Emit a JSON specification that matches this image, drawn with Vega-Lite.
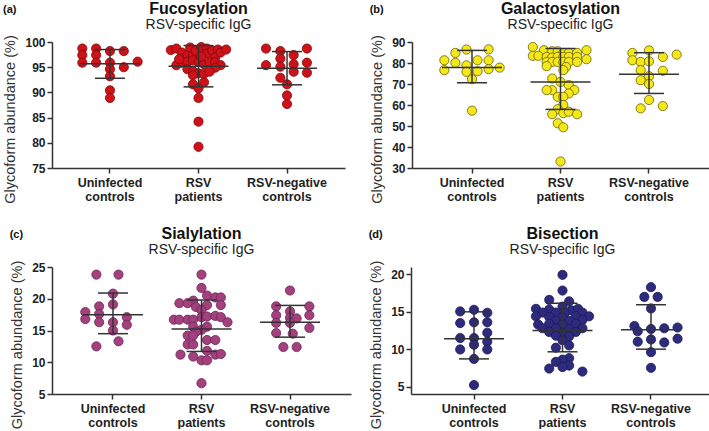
{
  "$schema": "https://vega.github.io/schema/vega-lite/v6.json",
  "padding": {"left": 2, "right": 0, "top": 0, "bottom": 0},
  "background": "white",
  "config": {
    "font": "Liberation Sans",
    "view": {"stroke": null},
    "title": {"fontSize": 16, "fontWeight": "bold", "color": "#111", "subtitleFontSize": 14, "subtitleColor": "#222", "subtitlePadding": 1, "offset": 3, "anchor": "middle"},
    "axis": {"grid": false, "domainColor": "#333", "domainWidth": 1.5, "tickColor": "#333", "tickWidth": 1.5, "tickSize": 5, "labelFontWeight": "bold", "labelColor": "#222", "titleFontWeight": "normal", "titleColor": "#333"},
    "axisY": {"labelFontSize": 12, "labelPadding": 2, "titleFontSize": 14.5, "titlePadding": 7, "labelOverlap": false},
    "axisX": {"labelFontSize": 12.5, "labelAngle": 0, "labelPadding": 3, "labelLineHeight": 14.5, "labelOverlap": false}
  },
  "datasets": {
    "pts": [
      {"p":"a","g":"Uninfected controls","v":98.7,"c":-5},{"p":"a","g":"Uninfected controls","v":97.4,"c":-5},{"p":"a","g":"Uninfected controls","v":95.9,"c":-5},
      {"p":"a","g":"Uninfected controls","v":98.7,"c":-2.5},{"p":"a","g":"Uninfected controls","v":97.4,"c":-2.5},{"p":"a","g":"Uninfected controls","v":95.9,"c":-2.5},
      {"p":"a","g":"Uninfected controls","v":98.2,"c":0},{"p":"a","g":"Uninfected controls","v":95.9,"c":0},{"p":"a","g":"Uninfected controls","v":94.6,"c":0},
      {"p":"a","g":"Uninfected controls","v":93.2,"c":0},{"p":"a","g":"Uninfected controls","v":90.4,"c":0},{"p":"a","g":"Uninfected controls","v":88.9,"c":0},
      {"p":"a","g":"Uninfected controls","v":98.2,"c":2.5},{"p":"a","g":"Uninfected controls","v":95.0,"c":2.5},{"p":"a","g":"Uninfected controls","v":96.1,"c":5},

      {"p":"a","g":"RSV patients","v":98.4,"c":-5},{"p":"a","g":"RSV patients","v":98.7,"c":-4},{"p":"a","g":"RSV patients","v":97.9,"c":-3},
      {"p":"a","g":"RSV patients","v":97.4,"c":-2},{"p":"a","g":"RSV patients","v":98.9,"c":-1.5},{"p":"a","g":"RSV patients","v":97.4,"c":-1},
      {"p":"a","g":"RSV patients","v":98.3,"c":-0.5},{"p":"a","g":"RSV patients","v":99.0,"c":0.5},{"p":"a","g":"RSV patients","v":98.7,"c":1.5},
      {"p":"a","g":"RSV patients","v":97.7,"c":1.5},{"p":"a","g":"RSV patients","v":98.3,"c":2.5},{"p":"a","g":"RSV patients","v":98.5,"c":3.5},
      {"p":"a","g":"RSV patients","v":96.9,"c":3},{"p":"a","g":"RSV patients","v":97.9,"c":4},{"p":"a","g":"RSV patients","v":98.5,"c":5},
      {"p":"a","g":"RSV patients","v":95.4,"c":-4},{"p":"a","g":"RSV patients","v":95.9,"c":-3},{"p":"a","g":"RSV patients","v":96.1,"c":-2},
      {"p":"a","g":"RSV patients","v":96.4,"c":-1},{"p":"a","g":"RSV patients","v":96.0,"c":0},{"p":"a","g":"RSV patients","v":95.6,"c":1},
      {"p":"a","g":"RSV patients","v":96.0,"c":2},{"p":"a","g":"RSV patients","v":96.0,"c":3},{"p":"a","g":"RSV patients","v":95.4,"c":4},
      {"p":"a","g":"RSV patients","v":96.6,"c":-3.5},{"p":"a","g":"RSV patients","v":97.1,"c":0.5},{"p":"a","g":"RSV patients","v":94.9,"c":3},
      {"p":"a","g":"RSV patients","v":94.6,"c":-2},{"p":"a","g":"RSV patients","v":94.2,"c":-1},{"p":"a","g":"RSV patients","v":93.8,"c":0},
      {"p":"a","g":"RSV patients","v":93.7,"c":1},{"p":"a","g":"RSV patients","v":94.1,"c":2},{"p":"a","g":"RSV patients","v":93.4,"c":-1},
      {"p":"a","g":"RSV patients","v":91.6,"c":-1},{"p":"a","g":"RSV patients","v":92.0,"c":1},{"p":"a","g":"RSV patients","v":90.8,"c":0},
      {"p":"a","g":"RSV patients","v":88.9,"c":0},{"p":"a","g":"RSV patients","v":84.2,"c":0},{"p":"a","g":"RSV patients","v":79.2,"c":0},

      {"p":"a","g":"RSV-negative controls","v":98.7,"c":-3.8},{"p":"a","g":"RSV-negative controls","v":98.2,"c":-1.2},{"p":"a","g":"RSV-negative controls","v":98.7,"c":3.6},
      {"p":"a","g":"RSV-negative controls","v":96.7,"c":-1.2},{"p":"a","g":"RSV-negative controls","v":97.4,"c":1.2},{"p":"a","g":"RSV-negative controls","v":95.4,"c":-3.8},
      {"p":"a","g":"RSV-negative controls","v":95.1,"c":-1.2},{"p":"a","g":"RSV-negative controls","v":95.6,"c":1.2},{"p":"a","g":"RSV-negative controls","v":95.9,"c":3.6},
      {"p":"a","g":"RSV-negative controls","v":92.9,"c":-1.2},{"p":"a","g":"RSV-negative controls","v":94.1,"c":1.2},{"p":"a","g":"RSV-negative controls","v":93.9,"c":3.6},
      {"p":"a","g":"RSV-negative controls","v":91.6,"c":0},{"p":"a","g":"RSV-negative controls","v":89.4,"c":0},{"p":"a","g":"RSV-negative controls","v":87.7,"c":0},

      {"p":"b","g":"Uninfected controls","v":81.3,"c":-5},{"p":"b","g":"Uninfected controls","v":76.6,"c":-5},{"p":"b","g":"Uninfected controls","v":84.8,"c":-3},
      {"p":"b","g":"Uninfected controls","v":80.1,"c":-3},{"p":"b","g":"Uninfected controls","v":86.4,"c":-1},{"p":"b","g":"Uninfected controls","v":78.9,"c":-1},
      {"p":"b","g":"Uninfected controls","v":75.8,"c":-1},{"p":"b","g":"Uninfected controls","v":72.3,"c":0},{"p":"b","g":"Uninfected controls","v":81.3,"c":1},
      {"p":"b","g":"Uninfected controls","v":76.1,"c":1},{"p":"b","g":"Uninfected controls","v":86.5,"c":3},{"p":"b","g":"Uninfected controls","v":81.3,"c":3},
      {"p":"b","g":"Uninfected controls","v":77.1,"c":3},{"p":"b","g":"Uninfected controls","v":77.8,"c":5},{"p":"b","g":"Uninfected controls","v":57.3,"c":0},

      {"p":"b","g":"RSV patients","v":87.6,"c":-5},{"p":"b","g":"RSV patients","v":86.1,"c":-3},{"p":"b","g":"RSV patients","v":85.6,"c":-1.5},
      {"p":"b","g":"RSV patients","v":85.6,"c":-0.5},{"p":"b","g":"RSV patients","v":84.8,"c":0.5},{"p":"b","g":"RSV patients","v":84.8,"c":1.5},
      {"p":"b","g":"RSV patients","v":84.8,"c":3},{"p":"b","g":"RSV patients","v":86.1,"c":4.7},{"p":"b","g":"RSV patients","v":83.4,"c":-5},
      {"p":"b","g":"RSV patients","v":83.4,"c":-4},{"p":"b","g":"RSV patients","v":82.9,"c":-2.5},{"p":"b","g":"RSV patients","v":82.6,"c":-1.5},
      {"p":"b","g":"RSV patients","v":82.9,"c":-0.5},{"p":"b","g":"RSV patients","v":82.9,"c":0.5},{"p":"b","g":"RSV patients","v":82.9,"c":1.5},
      {"p":"b","g":"RSV patients","v":82.9,"c":3},{"p":"b","g":"RSV patients","v":81.8,"c":4.7},{"p":"b","g":"RSV patients","v":80.5,"c":-2.5},
      {"p":"b","g":"RSV patients","v":80.5,"c":-1.5},{"p":"b","g":"RSV patients","v":80.5,"c":-0.5},{"p":"b","g":"RSV patients","v":80.5,"c":0.5},
      {"p":"b","g":"RSV patients","v":80.5,"c":1.5},{"p":"b","g":"RSV patients","v":80.5,"c":3},{"p":"b","g":"RSV patients","v":78.5,"c":-2.5},
      {"p":"b","g":"RSV patients","v":78.1,"c":1},{"p":"b","g":"RSV patients","v":76.6,"c":0.5},{"p":"b","g":"RSV patients","v":72.6,"c":-1.5},
      {"p":"b","g":"RSV patients","v":71.0,"c":0},{"p":"b","g":"RSV patients","v":69.5,"c":1.5},{"p":"b","g":"RSV patients","v":67.1,"c":-1.5},
      {"p":"b","g":"RSV patients","v":67.1,"c":-2.5},{"p":"b","g":"RSV patients","v":67.1,"c":2.5},{"p":"b","g":"RSV patients","v":65.5,"c":1.5},
      {"p":"b","g":"RSV patients","v":63.9,"c":-0.5},{"p":"b","g":"RSV patients","v":63.9,"c":0.5},{"p":"b","g":"RSV patients","v":60.0,"c":0.5},
      {"p":"b","g":"RSV patients","v":58.0,"c":-0.5},{"p":"b","g":"RSV patients","v":55.6,"c":-1.5},{"p":"b","g":"RSV patients","v":56.1,"c":0.5},
      {"p":"b","g":"RSV patients","v":56.8,"c":1.5},{"p":"b","g":"RSV patients","v":55.6,"c":3},{"p":"b","g":"RSV patients","v":51.3,"c":-0.5},
      {"p":"b","g":"RSV patients","v":49.4,"c":0.5},{"p":"b","g":"RSV patients","v":33.1,"c":0},

      {"p":"b","g":"RSV-negative controls","v":84.8,"c":-3},{"p":"b","g":"RSV-negative controls","v":81.3,"c":-3},{"p":"b","g":"RSV-negative controls","v":80.5,"c":-1.5},
      {"p":"b","g":"RSV-negative controls","v":76.6,"c":-1.5},{"p":"b","g":"RSV-negative controls","v":71.8,"c":-1.5},{"p":"b","g":"RSV-negative controls","v":58.4,"c":-1.5},
      {"p":"b","g":"RSV-negative controls","v":86.0,"c":0},{"p":"b","g":"RSV-negative controls","v":80.8,"c":0},{"p":"b","g":"RSV-negative controls","v":73.7,"c":0},
      {"p":"b","g":"RSV-negative controls","v":70.0,"c":0},{"p":"b","g":"RSV-negative controls","v":62.4,"c":0},{"p":"b","g":"RSV-negative controls","v":82.9,"c":2.5},
      {"p":"b","g":"RSV-negative controls","v":76.3,"c":2.5},{"p":"b","g":"RSV-negative controls","v":59.5,"c":2.5},{"p":"b","g":"RSV-negative controls","v":84.0,"c":5},

      {"p":"c","g":"Uninfected controls","v":23.8,"c":-3},{"p":"c","g":"Uninfected controls","v":23.8,"c":1},{"p":"c","g":"Uninfected controls","v":20.8,"c":0},
      {"p":"c","g":"Uninfected controls","v":17.9,"c":-5},{"p":"c","g":"Uninfected controls","v":16.8,"c":-5},{"p":"c","g":"Uninfected controls","v":18.8,"c":-2.5},
      {"p":"c","g":"Uninfected controls","v":17.6,"c":-2.5},{"p":"c","g":"Uninfected controls","v":16.3,"c":-2.5},{"p":"c","g":"Uninfected controls","v":19.1,"c":0},
      {"p":"c","g":"Uninfected controls","v":16.3,"c":0},{"p":"c","g":"Uninfected controls","v":15.0,"c":0},{"p":"c","g":"Uninfected controls","v":17.1,"c":2.5},
      {"p":"c","g":"Uninfected controls","v":15.9,"c":2.5},{"p":"c","g":"Uninfected controls","v":12.5,"c":-3},{"p":"c","g":"Uninfected controls","v":13.3,"c":1},

      {"p":"c","g":"RSV patients","v":23.8,"c":0},{"p":"c","g":"RSV patients","v":21.7,"c":0},{"p":"c","g":"RSV patients","v":20.5,"c":1},
      {"p":"c","g":"RSV patients","v":20.2,"c":2.5},{"p":"c","g":"RSV patients","v":20.2,"c":3.5},{"p":"c","g":"RSV patients","v":19.7,"c":-1.5},
      {"p":"c","g":"RSV patients","v":19.3,"c":-4},{"p":"c","g":"RSV patients","v":19.3,"c":-2.5},{"p":"c","g":"RSV patients","v":19.0,"c":1},
      {"p":"c","g":"RSV patients","v":19.0,"c":3.5},{"p":"c","g":"RSV patients","v":18.7,"c":-1},{"p":"c","g":"RSV patients","v":18.2,"c":0},
      {"p":"c","g":"RSV patients","v":17.1,"c":0},{"p":"c","g":"RSV patients","v":17.2,"c":1},{"p":"c","g":"RSV patients","v":17.3,"c":2.5},
      {"p":"c","g":"RSV patients","v":17.1,"c":3.5},{"p":"c","g":"RSV patients","v":16.7,"c":-5},{"p":"c","g":"RSV patients","v":16.7,"c":-4},
      {"p":"c","g":"RSV patients","v":16.7,"c":-2.5},{"p":"c","g":"RSV patients","v":16.7,"c":-1.5},{"p":"c","g":"RSV patients","v":16.3,"c":4.7},
      {"p":"c","g":"RSV patients","v":15.6,"c":-1.5},{"p":"c","g":"RSV patients","v":15.6,"c":1},{"p":"c","g":"RSV patients","v":15.1,"c":0},
      {"p":"c","g":"RSV patients","v":14.8,"c":-1},{"p":"c","g":"RSV patients","v":14.2,"c":-2.5},{"p":"c","g":"RSV patients","v":14.2,"c":-1.5},
      {"p":"c","g":"RSV patients","v":13.5,"c":1},{"p":"c","g":"RSV patients","v":13.5,"c":2.5},{"p":"c","g":"RSV patients","v":12.8,"c":-2.5},
      {"p":"c","g":"RSV patients","v":12.8,"c":-1.5},{"p":"c","g":"RSV patients","v":11.8,"c":1},{"p":"c","g":"RSV patients","v":11.2,"c":-3.8},
      {"p":"c","g":"RSV patients","v":11.2,"c":2.5},{"p":"c","g":"RSV patients","v":11.3,"c":3.5},{"p":"c","g":"RSV patients","v":10.9,"c":-1.5},
      {"p":"c","g":"RSV patients","v":10.3,"c":0},{"p":"c","g":"RSV patients","v":10.3,"c":1},{"p":"c","g":"RSV patients","v":6.7,"c":0},

      {"p":"c","g":"RSV-negative controls","v":21.3,"c":0},{"p":"c","g":"RSV-negative controls","v":18.8,"c":-2.5},{"p":"c","g":"RSV-negative controls","v":18.8,"c":3.5},
      {"p":"c","g":"RSV-negative controls","v":18.0,"c":0},{"p":"c","g":"RSV-negative controls","v":17.4,"c":-2.5},{"p":"c","g":"RSV-negative controls","v":17.4,"c":3.5},
      {"p":"c","g":"RSV-negative controls","v":17.0,"c":0},{"p":"c","g":"RSV-negative controls","v":16.9,"c":1.2},{"p":"c","g":"RSV-negative controls","v":16.2,"c":-2.5},
      {"p":"c","g":"RSV-negative controls","v":16.2,"c":0},{"p":"c","g":"RSV-negative controls","v":15.4,"c":3.5},{"p":"c","g":"RSV-negative controls","v":14.6,"c":-2.5},
      {"p":"c","g":"RSV-negative controls","v":14.5,"c":0.5},{"p":"c","g":"RSV-negative controls","v":12.4,"c":-1.2},{"p":"c","g":"RSV-negative controls","v":12.4,"c":1.2},

      {"p":"d","g":"Uninfected controls","v":15.05,"c":-2.5},{"p":"d","g":"Uninfected controls","v":15.27,"c":0},{"p":"d","g":"Uninfected controls","v":14.87,"c":2.4},
      {"p":"d","g":"Uninfected controls","v":13.49,"c":-2.5},{"p":"d","g":"Uninfected controls","v":13.6,"c":0},{"p":"d","g":"Uninfected controls","v":13.6,"c":2.4},
      {"p":"d","g":"Uninfected controls","v":11.49,"c":-2.5},{"p":"d","g":"Uninfected controls","v":11.49,"c":0},{"p":"d","g":"Uninfected controls","v":12.2,"c":2.4},
      {"p":"d","g":"Uninfected controls","v":11.0,"c":2.4},{"p":"d","g":"Uninfected controls","v":9.96,"c":-2.5},{"p":"d","g":"Uninfected controls","v":10.6,"c":0},
      {"p":"d","g":"Uninfected controls","v":9.96,"c":2.4},{"p":"d","g":"Uninfected controls","v":8.7,"c":0},{"p":"d","g":"Uninfected controls","v":5.2,"c":0},

      {"p":"d","g":"RSV patients","v":19.95,"c":0},{"p":"d","g":"RSV patients","v":17.85,"c":0},{"p":"d","g":"RSV patients","v":16.6,"c":-2.4},
      {"p":"d","g":"RSV patients","v":16.4,"c":1.2},{"p":"d","g":"RSV patients","v":15.7,"c":0},
      {"p":"d","g":"RSV patients","v":15.4,"c":-4.8},{"p":"d","g":"RSV patients","v":15.3,"c":-2.4},{"p":"d","g":"RSV patients","v":15.2,"c":1.6},{"p":"d","g":"RSV patients","v":15.4,"c":2.8},
      {"p":"d","g":"RSV patients","v":14.9,"c":-3.6},{"p":"d","g":"RSV patients","v":14.9,"c":-1.2},{"p":"d","g":"RSV patients","v":14.8,"c":0.4},{"p":"d","g":"RSV patients","v":14.9,"c":3.6},
      {"p":"d","g":"RSV patients","v":14.4,"c":-4.8},{"p":"d","g":"RSV patients","v":14.3,"c":-2.4},{"p":"d","g":"RSV patients","v":14.2,"c":0},{"p":"d","g":"RSV patients","v":14.4,"c":2.4},{"p":"d","g":"RSV patients","v":14.4,"c":4.8},
      {"p":"d","g":"RSV patients","v":13.8,"c":-1.2},{"p":"d","g":"RSV patients","v":13.8,"c":1.2},{"p":"d","g":"RSV patients","v":13.9,"c":3.6},
      {"p":"d","g":"RSV patients","v":13.4,"c":-2.4},{"p":"d","g":"RSV patients","v":13.3,"c":0},{"p":"d","g":"RSV patients","v":13.4,"c":2.4},{"p":"d","g":"RSV patients","v":13.3,"c":-4.4},
      {"p":"d","g":"RSV patients","v":12.8,"c":-3.6},{"p":"d","g":"RSV patients","v":12.8,"c":-1.2},{"p":"d","g":"RSV patients","v":12.7,"c":1.2},{"p":"d","g":"RSV patients","v":12.8,"c":3.6},
      {"p":"d","g":"RSV patients","v":12.3,"c":-2.4},{"p":"d","g":"RSV patients","v":12.2,"c":0},{"p":"d","g":"RSV patients","v":12.3,"c":2.4},
      {"p":"d","g":"RSV patients","v":11.8,"c":-1.2},{"p":"d","g":"RSV patients","v":11.7,"c":1.2},{"p":"d","g":"RSV patients","v":11.2,"c":0},
      {"p":"d","g":"RSV patients","v":10.5,"c":1.2},{"p":"d","g":"RSV patients","v":10.2,"c":-1.2},
      {"p":"d","g":"RSV patients","v":8.8,"c":1.2},{"p":"d","g":"RSV patients","v":8.6,"c":0},{"p":"d","g":"RSV patients","v":8.3,"c":-1.2},
      {"p":"d","g":"RSV patients","v":7.8,"c":1.2},{"p":"d","g":"RSV patients","v":7.6,"c":0},{"p":"d","g":"RSV patients","v":7.4,"c":-2.4},{"p":"d","g":"RSV patients","v":7.0,"c":3.6},

      {"p":"d","g":"RSV-negative controls","v":18.3,"c":0},{"p":"d","g":"RSV-negative controls","v":17.0,"c":-1.2},{"p":"d","g":"RSV-negative controls","v":17.0,"c":1.2},
      {"p":"d","g":"RSV-negative controls","v":15.45,"c":0},{"p":"d","g":"RSV-negative controls","v":13.1,"c":-3},{"p":"d","g":"RSV-negative controls","v":12.9,"c":4.8},
      {"p":"d","g":"RSV-negative controls","v":12.4,"c":-2.4},{"p":"d","g":"RSV-negative controls","v":12.7,"c":0},{"p":"d","g":"RSV-negative controls","v":12.8,"c":2.4},
      {"p":"d","g":"RSV-negative controls","v":11.4,"c":4.8},{"p":"d","g":"RSV-negative controls","v":11.0,"c":-2.4},{"p":"d","g":"RSV-negative controls","v":11.3,"c":0},
      {"p":"d","g":"RSV-negative controls","v":10.9,"c":2.4},{"p":"d","g":"RSV-negative controls","v":9.6,"c":0},{"p":"d","g":"RSV-negative controls","v":7.5,"c":0}
    ],
    "sum": [
      {"p":"a","g":"Uninfected controls","mean":95.7,"lo":92.8,"hi":98.5},
      {"p":"a","g":"RSV patients","mean":95.2,"lo":91.1,"hi":99.3},
      {"p":"a","g":"RSV-negative controls","mean":94.8,"lo":91.5,"hi":98.1},
      {"p":"b","g":"Uninfected controls","mean":77.9,"lo":70.6,"hi":86.0},
      {"p":"b","g":"RSV patients","mean":71.0,"lo":57.9,"hi":86.9},
      {"p":"b","g":"RSV-negative controls","mean":74.7,"lo":65.5,"hi":84.9},
      {"p":"c","g":"Uninfected controls","mean":17.5,"lo":14.5,"hi":20.9},
      {"p":"c","g":"RSV patients","mean":15.25,"lo":11.7,"hi":19.8},
      {"p":"c","g":"RSV-negative controls","mean":16.3,"lo":13.95,"hi":18.95},
      {"p":"d","g":"Uninfected controls","mean":11.4,"lo":8.7,"hi":15.0},
      {"p":"d","g":"RSV patients","mean":12.5,"lo":9.65,"hi":16.15},
      {"p":"d","g":"RSV-negative controls","mean":12.6,"lo":10.0,"hi":15.95}
    ]
  },
  "spacing": 22,
  "vconcat": [
    {
      "spacing": 24,
      "hconcat": [
        {
          "title": {"text": "(a)", "anchor": "start", "frame": "bounds", "offset": -14, "fontSize": 11, "fontWeight": "bold"},
          "vconcat": [{
            "width": 293, "height": 126,
            "title": {"text": "Fucosylation", "subtitle": "RSV-specific IgG"},
            "layer": [
              {"data": {"name": "pts"}, "transform": [{"filter": "datum.p === 'a'"}],
               "mark": {"type": "circle", "size": 85, "opacity": 1, "fill": "#cf1219", "stroke": "#7d0a0a", "strokeWidth": 0.8},
               "encoding": {
                 "x": {"field": "g", "type": "nominal", "title": null, "sort": ["Uninfected controls", "RSV patients", "RSV-negative controls"], "scale": {"paddingInner": 0, "paddingOuter": 0.155}, "axis": {"labelExpr": "split(datum.label, ' ')"}},
                 "xOffset": {"field": "c", "type": "quantitative", "scale": {"domain": [-8, 8], "range": [0, 88.5]}},
                 "y": {"field": "v", "type": "quantitative", "title": "Glycoform abundance (%)", "scale": {"domain": [75, 100], "nice": false, "zero": false}, "axis": {"values": [75, 80, 85, 90, 95, 100], "titleY": 77}}
               }},
              {"data": {"name": "sum"}, "transform": [{"filter": "datum.p === 'a'"}],
               "mark": {"type": "rule", "color": "#333", "strokeWidth": 1.5},
               "encoding": {"x": {"field": "g", "type": "nominal", "title": null, "sort": ["Uninfected controls", "RSV patients", "RSV-negative controls"]}, "y": {"field": "lo", "type": "quantitative", "title": "Glycoform abundance (%)", "axis": {"values": [75, 80, 85, 90, 95, 100], "titleY": 77}}, "y2": {"field": "hi"}}},
              {"data": {"name": "sum"}, "transform": [{"filter": "datum.p === 'a'"}],
               "mark": {"type": "tick", "orient": "horizontal", "size": 60, "thickness": 1.5, "color": "#333", "opacity": 1},
               "encoding": {"x": {"field": "g", "type": "nominal", "title": null, "sort": ["Uninfected controls", "RSV patients", "RSV-negative controls"]}, "y": {"field": "mean", "type": "quantitative", "title": "Glycoform abundance (%)", "axis": {"values": [75, 80, 85, 90, 95, 100], "titleY": 77}}}},
              {"data": {"name": "sum"}, "transform": [{"filter": "datum.p === 'a'"}],
               "mark": {"type": "tick", "orient": "horizontal", "size": 30, "thickness": 1.5, "color": "#333", "opacity": 1},
               "encoding": {"x": {"field": "g", "type": "nominal", "title": null, "sort": ["Uninfected controls", "RSV patients", "RSV-negative controls"]}, "y": {"field": "lo", "type": "quantitative", "title": "Glycoform abundance (%)", "axis": {"values": [75, 80, 85, 90, 95, 100], "titleY": 77}}}},
              {"data": {"name": "sum"}, "transform": [{"filter": "datum.p === 'a'"}],
               "mark": {"type": "tick", "orient": "horizontal", "size": 30, "thickness": 1.5, "color": "#333", "opacity": 1},
               "encoding": {"x": {"field": "g", "type": "nominal", "title": null, "sort": ["Uninfected controls", "RSV patients", "RSV-negative controls"]}, "y": {"field": "hi", "type": "quantitative", "title": "Glycoform abundance (%)", "axis": {"values": [75, 80, 85, 90, 95, 100], "titleY": 77}}}}
            ]
          }]
        },
        {
          "title": {"text": "(b)", "anchor": "start", "frame": "bounds", "offset": -14, "fontSize": 11, "fontWeight": "bold"},
          "vconcat": [{
            "width": 297, "height": 126,
            "title": {"text": "Galactosylation", "subtitle": "RSV-specific IgG"},
            "layer": [
              {"data": {"name": "pts"}, "transform": [{"filter": "datum.p === 'b'"}],
               "mark": {"type": "circle", "size": 85, "opacity": 1, "fill": "#f5e81a", "stroke": "#6b5f00", "strokeWidth": 0.8},
               "encoding": {
                 "x": {"field": "g", "type": "nominal", "title": null, "sort": ["Uninfected controls", "RSV patients", "RSV-negative controls"], "scale": {"paddingInner": 0, "paddingOuter": 0.178}, "axis": {"labelExpr": "split(datum.label, ' ')"}},
                 "xOffset": {"field": "c", "type": "quantitative", "scale": {"domain": [-8, 8], "range": [0, 88.5]}},
                 "y": {"field": "v", "type": "quantitative", "title": "Glycoform abundance (%)", "scale": {"domain": [30, 90], "nice": false, "zero": false}, "axis": {"values": [30, 40, 50, 60, 70, 80, 90], "titleY": 77}}
               }},
              {"data": {"name": "sum"}, "transform": [{"filter": "datum.p === 'b'"}],
               "mark": {"type": "rule", "color": "#333", "strokeWidth": 1.5},
               "encoding": {"x": {"field": "g", "type": "nominal", "title": null, "sort": ["Uninfected controls", "RSV patients", "RSV-negative controls"]}, "y": {"field": "lo", "type": "quantitative", "title": "Glycoform abundance (%)", "axis": {"values": [30, 40, 50, 60, 70, 80, 90], "titleY": 77}}, "y2": {"field": "hi"}}},
              {"data": {"name": "sum"}, "transform": [{"filter": "datum.p === 'b'"}],
               "mark": {"type": "tick", "orient": "horizontal", "size": 60, "thickness": 1.5, "color": "#333", "opacity": 1},
               "encoding": {"x": {"field": "g", "type": "nominal", "title": null, "sort": ["Uninfected controls", "RSV patients", "RSV-negative controls"]}, "y": {"field": "mean", "type": "quantitative", "title": "Glycoform abundance (%)", "axis": {"values": [30, 40, 50, 60, 70, 80, 90], "titleY": 77}}}},
              {"data": {"name": "sum"}, "transform": [{"filter": "datum.p === 'b'"}],
               "mark": {"type": "tick", "orient": "horizontal", "size": 30, "thickness": 1.5, "color": "#333", "opacity": 1},
               "encoding": {"x": {"field": "g", "type": "nominal", "title": null, "sort": ["Uninfected controls", "RSV patients", "RSV-negative controls"]}, "y": {"field": "lo", "type": "quantitative", "title": "Glycoform abundance (%)", "axis": {"values": [30, 40, 50, 60, 70, 80, 90], "titleY": 77}}}},
              {"data": {"name": "sum"}, "transform": [{"filter": "datum.p === 'b'"}],
               "mark": {"type": "tick", "orient": "horizontal", "size": 30, "thickness": 1.5, "color": "#333", "opacity": 1},
               "encoding": {"x": {"field": "g", "type": "nominal", "title": null, "sort": ["Uninfected controls", "RSV patients", "RSV-negative controls"]}, "y": {"field": "hi", "type": "quantitative", "title": "Glycoform abundance (%)", "axis": {"values": [30, 40, 50, 60, 70, 80, 90], "titleY": 77}}}}
            ]
          }]
        }
      ]
    },
    {
      "spacing": 17,
      "hconcat": [
        {
          "title": {"text": "(c)", "anchor": "start", "frame": "bounds", "offset": -14, "fontSize": 11, "fontWeight": "bold"},
          "vconcat": [{
            "width": 299, "height": 127,
            "title": {"text": "Sialylation", "subtitle": "RSV-specific IgG"},
            "layer": [
              {"data": {"name": "pts"}, "transform": [{"filter": "datum.p === 'c'"}],
               "mark": {"type": "circle", "size": 85, "opacity": 1, "fill": "#a3417f", "stroke": "#6d2455", "strokeWidth": 0.8},
               "encoding": {
                 "x": {"field": "g", "type": "nominal", "title": null, "sort": ["Uninfected controls", "RSV patients", "RSV-negative controls"], "scale": {"paddingInner": 0, "paddingOuter": 0.189}, "axis": {"labelExpr": "split(datum.label, ' ')"}},
                 "xOffset": {"field": "c", "type": "quantitative", "scale": {"domain": [-8, 8], "range": [0, 88.5]}},
                 "y": {"field": "v", "type": "quantitative", "title": "Glycoform abundance (%)", "scale": {"domain": [5, 25], "nice": false, "zero": false}, "axis": {"values": [5, 10, 15, 20, 25], "titleY": 77.5}}
               }},
              {"data": {"name": "sum"}, "transform": [{"filter": "datum.p === 'c'"}],
               "mark": {"type": "rule", "color": "#333", "strokeWidth": 1.5},
               "encoding": {"x": {"field": "g", "type": "nominal", "title": null, "sort": ["Uninfected controls", "RSV patients", "RSV-negative controls"]}, "y": {"field": "lo", "type": "quantitative", "title": "Glycoform abundance (%)", "axis": {"values": [5, 10, 15, 20, 25], "titleY": 77.5}}, "y2": {"field": "hi"}}},
              {"data": {"name": "sum"}, "transform": [{"filter": "datum.p === 'c'"}],
               "mark": {"type": "tick", "orient": "horizontal", "size": 60, "thickness": 1.5, "color": "#333", "opacity": 1},
               "encoding": {"x": {"field": "g", "type": "nominal", "title": null, "sort": ["Uninfected controls", "RSV patients", "RSV-negative controls"]}, "y": {"field": "mean", "type": "quantitative", "title": "Glycoform abundance (%)", "axis": {"values": [5, 10, 15, 20, 25], "titleY": 77.5}}}},
              {"data": {"name": "sum"}, "transform": [{"filter": "datum.p === 'c'"}],
               "mark": {"type": "tick", "orient": "horizontal", "size": 30, "thickness": 1.5, "color": "#333", "opacity": 1},
               "encoding": {"x": {"field": "g", "type": "nominal", "title": null, "sort": ["Uninfected controls", "RSV patients", "RSV-negative controls"]}, "y": {"field": "lo", "type": "quantitative", "title": "Glycoform abundance (%)", "axis": {"values": [5, 10, 15, 20, 25], "titleY": 77.5}}}},
              {"data": {"name": "sum"}, "transform": [{"filter": "datum.p === 'c'"}],
               "mark": {"type": "tick", "orient": "horizontal", "size": 30, "thickness": 1.5, "color": "#333", "opacity": 1},
               "encoding": {"x": {"field": "g", "type": "nominal", "title": null, "sort": ["Uninfected controls", "RSV patients", "RSV-negative controls"]}, "y": {"field": "hi", "type": "quantitative", "title": "Glycoform abundance (%)", "axis": {"values": [5, 10, 15, 20, 25], "titleY": 77.5}}}}
            ]
          }]
        },
        {
          "title": {"text": "(d)", "anchor": "start", "frame": "bounds", "offset": -14, "fontSize": 11, "fontWeight": "bold"},
          "vconcat": [{
            "width": 303, "height": 127,
            "title": {"text": "Bisection", "subtitle": "RSV-specific IgG"},
            "layer": [
              {"data": {"name": "pts"}, "transform": [{"filter": "datum.p === 'd'"}],
               "mark": {"type": "circle", "size": 85, "opacity": 1, "fill": "#2e2b7f", "stroke": "#1c1a55", "strokeWidth": 0.8},
               "encoding": {
                 "x": {"field": "g", "type": "nominal", "title": null, "sort": ["Uninfected controls", "RSV patients", "RSV-negative controls"], "scale": {"paddingInner": 0, "paddingOuter": 0.212}, "axis": {"labelExpr": "split(datum.label, ' ')"}},
                 "xOffset": {"field": "c", "type": "quantitative", "scale": {"domain": [-8, 8], "range": [0, 88.5]}},
                 "y": {"field": "v", "type": "quantitative", "title": "Glycoform abundance (%)", "scale": {"domain": [4, 21], "nice": false, "zero": false}, "axis": {"values": [5, 10, 15, 20], "titleY": 77.5}}
               }},
              {"data": {"name": "sum"}, "transform": [{"filter": "datum.p === 'd'"}],
               "mark": {"type": "rule", "color": "#333", "strokeWidth": 1.5},
               "encoding": {"x": {"field": "g", "type": "nominal", "title": null, "sort": ["Uninfected controls", "RSV patients", "RSV-negative controls"]}, "y": {"field": "lo", "type": "quantitative", "title": "Glycoform abundance (%)", "axis": {"values": [5, 10, 15, 20], "titleY": 77.5}}, "y2": {"field": "hi"}}},
              {"data": {"name": "sum"}, "transform": [{"filter": "datum.p === 'd'"}],
               "mark": {"type": "tick", "orient": "horizontal", "size": 60, "thickness": 1.5, "color": "#333", "opacity": 1},
               "encoding": {"x": {"field": "g", "type": "nominal", "title": null, "sort": ["Uninfected controls", "RSV patients", "RSV-negative controls"]}, "y": {"field": "mean", "type": "quantitative", "title": "Glycoform abundance (%)", "axis": {"values": [5, 10, 15, 20], "titleY": 77.5}}}},
              {"data": {"name": "sum"}, "transform": [{"filter": "datum.p === 'd'"}],
               "mark": {"type": "tick", "orient": "horizontal", "size": 30, "thickness": 1.5, "color": "#333", "opacity": 1},
               "encoding": {"x": {"field": "g", "type": "nominal", "title": null, "sort": ["Uninfected controls", "RSV patients", "RSV-negative controls"]}, "y": {"field": "lo", "type": "quantitative", "title": "Glycoform abundance (%)", "axis": {"values": [5, 10, 15, 20], "titleY": 77.5}}}},
              {"data": {"name": "sum"}, "transform": [{"filter": "datum.p === 'd'"}],
               "mark": {"type": "tick", "orient": "horizontal", "size": 30, "thickness": 1.5, "color": "#333", "opacity": 1},
               "encoding": {"x": {"field": "g", "type": "nominal", "title": null, "sort": ["Uninfected controls", "RSV patients", "RSV-negative controls"]}, "y": {"field": "hi", "type": "quantitative", "title": "Glycoform abundance (%)", "axis": {"values": [5, 10, 15, 20], "titleY": 77.5}}}}
            ]
          }]
        }
      ]
    }
  ]
}
